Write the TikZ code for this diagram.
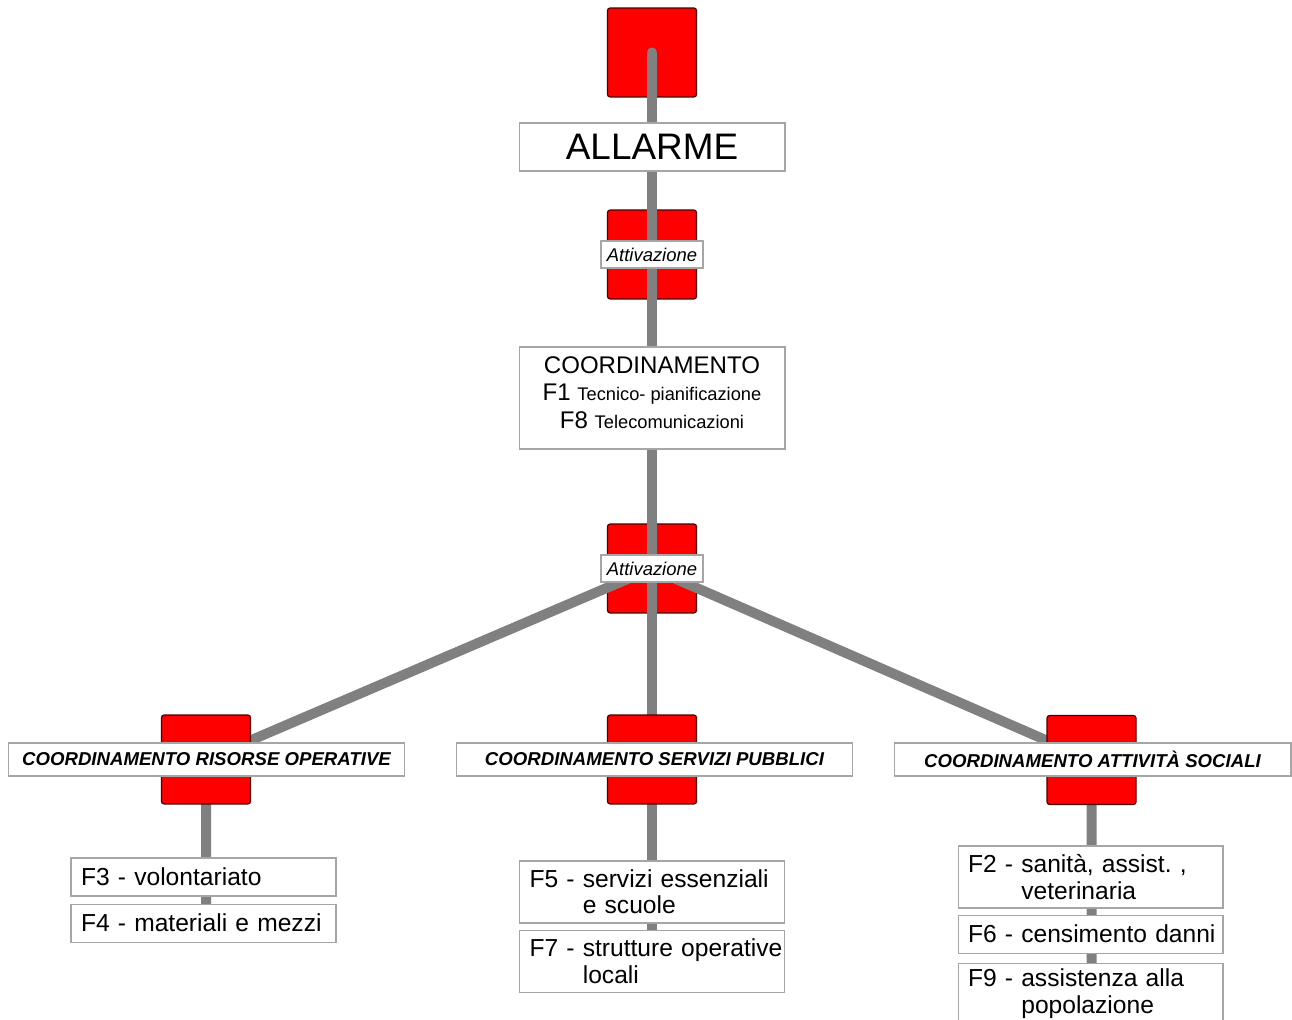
\documentclass[tikz,border=0pt]{standalone}
\usepackage{fontspec}
\setmainfont{Liberation Sans}
\usepackage{xcolor}
\usepackage{tikz}
\usetikzlibrary{positioning,backgrounds}

\definecolor{boxgray}{HTML}{A6A6A6}
\definecolor{linkgray}{HTML}{808080}
\definecolor{sqborder}{HTML}{4A0000}

\newcommand{\rientro}{\hphantom{F0 - }}
\newcommand{\piccolo}{\fontsize{10.4}{16}\selectfont}
\frenchspacing

\begin{document}
\begin{tikzpicture}[
    x=0.02cm, y=-0.02cm,
    redsquare/.style={rectangle, draw=sqborder, line width=0.7pt, rounded corners=1.5pt, fill=red, minimum width=1.78cm, minimum height=1.78cm},
    titlebox/.style={rectangle, draw=boxgray, line width=0.6pt, fill=white, minimum width=5.32cm, align=center},
    activation/.style={rectangle, draw=boxgray, line width=0.6pt, fill=white, minimum width=2.04cm, minimum height=0.54cm, inner sep=0pt, font=\fontsize{10.5}{12}\selectfont\itshape},
    groupbox/.style={rectangle, draw=boxgray, line width=0.6pt, fill=white, minimum width=7.94cm, minimum height=0.66cm, inner sep=0pt, font=\fontsize{10.6}{12}\selectfont\bfseries\itshape},
    funcbox/.style={rectangle, draw=boxgray, line width=0.6pt, fill=white, text width=5.24cm, inner xsep=0.03cm, inner ysep=0.1cm, minimum height=0.76cm, align=left, font=\fontsize{14}{15}\selectfont, execute at begin node={\leftskip 0.17cm\relax}},
    link/.style={draw=linkgray, line width=0.2cm, line cap=round, line join=round}
]
\useasboundingbox (0,0) rectangle (1292,1020);

% Upper squares
\begin{pgfonlayer}{background}
\node[redsquare] (sq_allarme) at (652,52.5) {};
\node[redsquare] (sq_attiv1) at (652,254.5) {};
\node[redsquare] (sq_attiv2) at (652,568.5) {};
\end{pgfonlayer}

% Lower squares
\node[redsquare] (sq_risorse) at (206,759.5) {};
\node[redsquare] (sq_servizi) at (652,759.5) {};
\node[redsquare] (sq_sociali) at (1091.5,760) {};

% Allarme and Coordinamento
\node[titlebox, minimum height=0.96cm, font=\fontsize{21}{25}\selectfont] (allarme_box) at (652,147) {ALLARME};
\node[activation] (attiv1_label) at (652,254.5) {Attivazione};
\node[titlebox, minimum height=2.04cm, text depth=0.22cm, font=\fontsize{13.7}{15.8}\selectfont] (coord_box) at (652,398) {COORDINAMENTO\\ F1 {\piccolo Tecnico- pianificazione}\\ F8 {\piccolo Telecomunicazioni}};
\node[activation] (attiv2_label) at (652,568.5) {Attivazione};

% Groups
\node[groupbox] (risorse_label) at (206.5,759.5) {COORDINAMENTO RISORSE OPERATIVE};
\node[groupbox] (servizi_label) at (654.5,759.5) {COORDINAMENTO SERVIZI PUBBLICI};
\node[groupbox] (sociali_label) at (1092.5,759.5) {COORDINAMENTO ATTIVITÀ SOCIALI};

% Risorse operative
\node[funcbox] (f3_box) at (203.5,877) {F3 - volontariato};
\node[funcbox] (f4_box) [below=0.14cm of f3_box] {F4 - materiali e mezzi};

% Servizi pubblici
\node[funcbox, minimum height=1.24cm] (f5_box) at (652,892) {F5 - servizi essenziali\\ \rientro e scuole};
\node[funcbox, minimum height=1.24cm] (f7_box) [below=0.12cm of f5_box] {F7 - strutture operative\\ \rientro locali};

% Attivita sociali
\node[funcbox, minimum height=1.24cm] (f2_box) at (1090.5,877) {F2 - sanità, assist. ,\\ \rientro veterinaria};
\node[funcbox] (f6_box) [below=0.12cm of f2_box] {F6 - censimento danni};
\node[funcbox, minimum height=1.22cm] (f9_box) [below=0.18cm of f6_box] {F9 - assistenza alla\\ \rientro popolazione};

% Links
\begin{pgfonlayer}{background}
\draw[link] (sq_allarme.center) -- (sq_attiv1.center) -- (sq_attiv2.center);
\draw[link] (sq_attiv2.center) -- (sq_risorse.center) -- (sq_risorse |- f4_box.center);
\draw[link] (sq_attiv2.center) -- (sq_servizi.center) -- (f7_box.center);
\draw[link] (sq_attiv2.center) -- (sq_sociali.center) -- (sq_sociali |- f9_box.center);
\end{pgfonlayer}

\end{tikzpicture}
\end{document}
